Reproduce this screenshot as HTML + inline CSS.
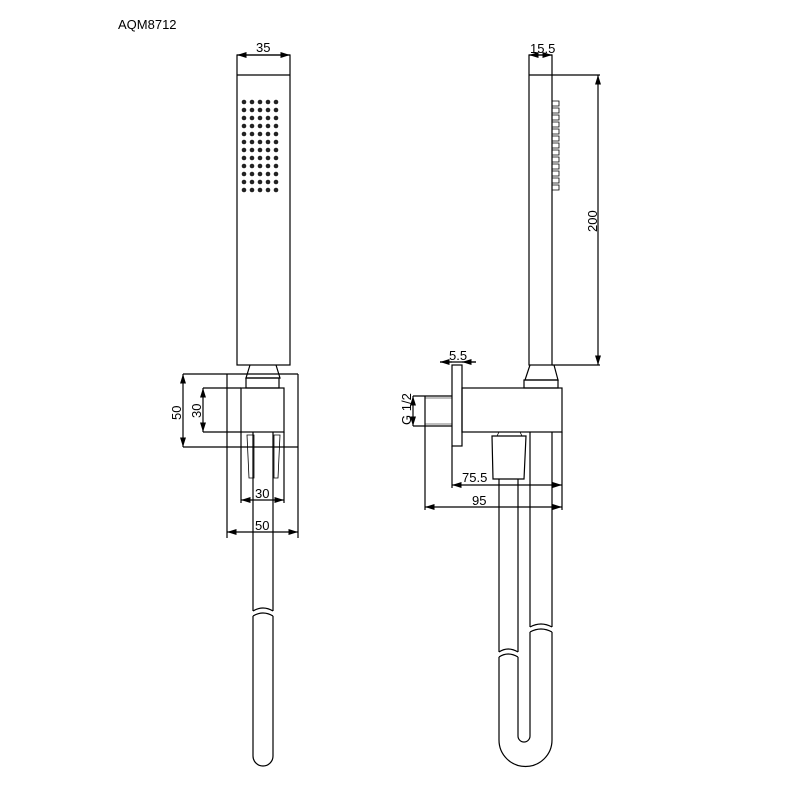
<!DOCTYPE html><html><head><style>body{margin:0;background:#fff}svg{display:block}text{font-family:"Liberation Sans",sans-serif;font-size:13px;fill:#000}</style></head><body>
<svg width="800" height="800" viewBox="0 0 800 800" fill="none" stroke="#000" stroke-width="1.2">
<defs><marker id="a" markerWidth="8" markerHeight="6" refX="8" refY="3" orient="auto-start-reverse"><path d="M0,0.5L8,3L0,5.5z" fill="#000" stroke="none"/></marker></defs>
<text x="118" y="29" stroke="none">AQM8712</text>
<!-- left handset -->
<rect x="237" y="55" width="53" height="310"/>
<line x1="237" y1="75" x2="290" y2="75"/>
<line x1="237" y1="55" x2="290" y2="55" marker-start="url(#a)" marker-end="url(#a)"/>
<text x="256" y="52" stroke="none">35</text>
<g fill="#222" stroke="none" id="dots"></g>
<path d="M250,365 L246,378 L280,378 L276,365"/>
<rect x="246" y="378" width="33" height="10"/>
<line x1="183" y1="374" x2="298" y2="374"/><line x1="298" y1="374" x2="298" y2="538"/><line x1="227" y1="374" x2="227" y2="538"/>
<line x1="183" y1="447" x2="298" y2="447"/>
<rect x="241" y="388" width="43" height="44"/>
<line x1="241" y1="432" x2="241" y2="503"/><line x1="284" y1="432" x2="284" y2="503"/>
<line x1="203" y1="388" x2="241" y2="388"/><line x1="203" y1="432" x2="241" y2="432"/>
<line x1="183" y1="374" x2="183" y2="447" marker-start="url(#a)" marker-end="url(#a)"/>
<line x1="203" y1="388" x2="203" y2="432" marker-start="url(#a)" marker-end="url(#a)"/>
<text transform="translate(181,420) rotate(-90)" stroke="none">50</text>
<text transform="translate(201,418) rotate(-90)" stroke="none">30</text>
<path d="M247,435 L254,435 L254,478 L249,478 Z M274,435 L280,435 L278,478 L274,478 Z" stroke-width="0.8"/>
<line x1="241" y1="500" x2="284" y2="500" marker-start="url(#a)" marker-end="url(#a)"/>
<text x="255" y="498" stroke="none">30</text>
<line x1="227" y1="532" x2="298" y2="532" marker-start="url(#a)" marker-end="url(#a)"/>
<text x="255" y="530" stroke="none">50</text>
<line x1="253" y1="432" x2="253" y2="611"/><line x1="273" y1="432" x2="273" y2="611"/>
<path d="M253,611 Q263,605 273,611 M253,616 Q263,610 273,616"/>
<path d="M253,616 L253,756 A10,10 0 0 0 273,756 L273,616"/>
<!-- right view -->
<rect x="529" y="55" width="23" height="310"/>
<line x1="529" y1="75" x2="600" y2="75"/><line x1="552" y1="365" x2="600" y2="365"/>
<line x1="598" y1="75" x2="598" y2="365" marker-start="url(#a)" marker-end="url(#a)"/>
<text transform="translate(597,232) rotate(-90)" stroke="none">200</text>
<line x1="529" y1="55" x2="552" y2="55" marker-start="url(#a)" marker-end="url(#a)"/>
<text x="530" y="53" stroke="none">15.5</text>
<g id="rid" stroke-width="0.8"></g>
<path d="M530,365 L525,380 L558,380 L554,365"/>
<rect x="524" y="380" width="34" height="8"/>
<rect x="462" y="388" width="100" height="44"/>
<rect x="452" y="365" width="10" height="81"/>
<line x1="440" y1="362" x2="476" y2="362"/>
<line x1="452" y1="362" x2="440" y2="362" marker-end="url(#a)"/><line x1="462" y1="362" x2="476" y2="362" marker-start="url(#a)"/>
<text x="449" y="360" stroke="none">5.5</text>
<line x1="413" y1="396" x2="452" y2="396"/><line x1="413" y1="426" x2="452" y2="426"/>
<line x1="425" y1="396" x2="425" y2="510"/><line x1="425" y1="398" x2="452" y2="398" stroke-width="0.6"/><line x1="425" y1="424" x2="452" y2="424" stroke-width="0.6"/>
<line x1="413" y1="396" x2="413" y2="426" marker-start="url(#a)" marker-end="url(#a)"/>
<text transform="translate(411,425) rotate(-90)" stroke="none">G 1/2</text>
<path d="M492,436 L526,436 L524,479 L493,479 Z"/><path d="M497,436 L499,432 L520,432 L522,436" stroke-width="0.8"/>
<line x1="452" y1="446" x2="452" y2="488"/><line x1="562" y1="432" x2="562" y2="510"/>
<line x1="452" y1="485" x2="562" y2="485" marker-start="url(#a)" marker-end="url(#a)"/>
<text x="462" y="482" stroke="none">75.5</text>
<line x1="425" y1="507" x2="562" y2="507" marker-start="url(#a)" marker-end="url(#a)"/>
<text x="472" y="505" stroke="none">95</text>
<line x1="499" y1="479" x2="499" y2="652"/><line x1="518" y1="479" x2="518" y2="652"/>
<line x1="530" y1="432" x2="530" y2="627"/><line x1="552" y1="432" x2="552" y2="627"/>
<path d="M499,652 Q508,646 518,652 M499,657 Q508,651 518,657"/>
<path d="M530,627 Q541,621 552,627 M530,632 Q541,626 552,632"/>
<path d="M499,657 L499,740 A26.5,26.5 0 0 0 552,740 L552,632"/>
<path d="M518,657 L518,736 A6,6 0 0 0 530,736 L530,632"/>
</svg>
<script>
var g=document.getElementById('dots'),s='';
for(var r=0;r<12;r++)for(var c=0;c<5;c++)s+='<circle cx="'+(244+c*8)+'" cy="'+(102+r*8)+'" r="2.3"/>';
g.innerHTML=s;
var h=document.getElementById('rid'),t='';
for(var i=0;i<13;i++){var y=101+i*7;t+='<path d="M552,'+y+' L559,'+y+' L559,'+(y+5)+' L552,'+(y+5)+'" fill="none" stroke="#000"/>';}
h.innerHTML=t;
</script>
</body></html>
